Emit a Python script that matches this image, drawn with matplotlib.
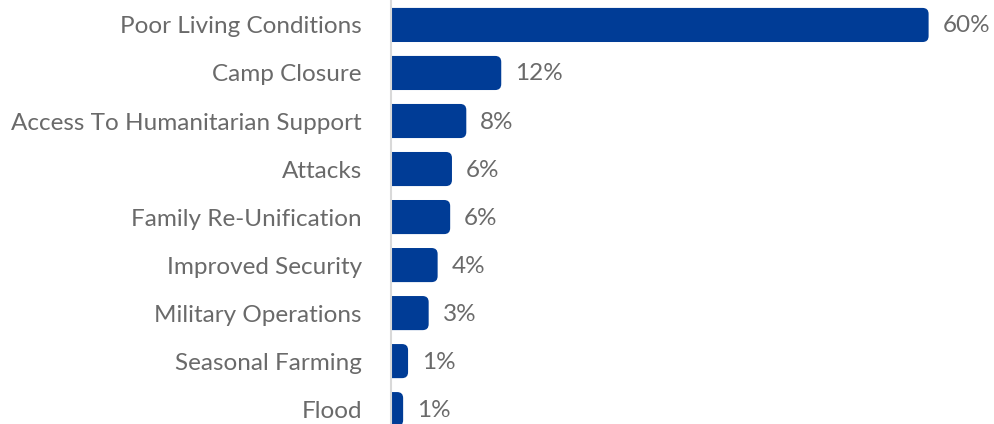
import matplotlib.pyplot as plt
from matplotlib.patches import FancyBboxPatch

categories = ['Poor Living Conditions', 'Camp Closure', 'Access To Humanitarian Support',
              'Attacks', 'Family Re-Unification', 'Improved Security',
              'Military Operations', 'Seasonal Farming', 'Flood']
values = [60, 12.3, 8.4, 6.8, 6.6, 5.2, 4.2, 1.9, 1.35]
value_labels = ['60%', '12%', '8%', '6%', '6%', '4%', '3%', '1%', '1%']

bar_color = '#003C96'
text_color = '#6a6a6a'

plt.rcParams['font.family'] = ['Lato', 'DejaVu Sans']

fig = plt.figure(figsize=(9.94, 4.24), dpi=100)
ax = fig.add_axes([0.3934, 0.0, 0.6066, 1.0])

ypos = list(range(len(categories)))
xmax = 603 / 8.96
ax.set_xlim(0, xmax)
ax.set_ylim(8.31, -0.52)

bar_h = 0.71
# rounded right ends: px per unit differs on x and y, so fix the aspect
px_x = 603 / xmax
px_y = 48
r_px = 6
for y, v in zip(ypos, values):
    p = FancyBboxPatch((-2, y - bar_h / 2), v + 2, bar_h,
                       boxstyle=f'round,pad=0,rounding_size={r_px / px_x}',
                       mutation_aspect=px_x / px_y,
                       facecolor=bar_color, edgecolor='none', clip_on=True)
    ax.add_patch(p)

for y, v, lab in zip(ypos, values, value_labels):
    ax.annotate(lab, (v, y), xytext=(14, -1), textcoords='offset pixels',
                va='center', ha='left', fontsize=17.5, color=text_color)

ax.set_yticks(ypos)
ax.set_yticklabels(categories, fontsize=17.5, color=text_color)
ax.tick_params(axis='y', length=0, pad=21)
ax.set_xticks([])

for s in ['top', 'right', 'bottom']:
    ax.spines[s].set_visible(False)
ax.spines['left'].set_color('#d9d9d9')
ax.spines['left'].set_linewidth(1.5)

fig.savefig('out.png', dpi=100)
